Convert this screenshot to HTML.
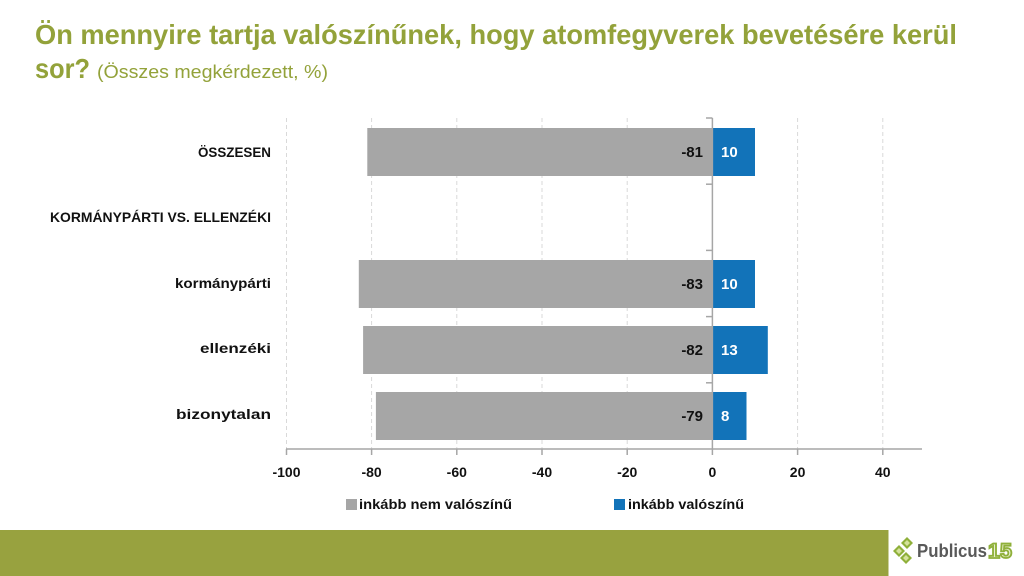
<!DOCTYPE html>
<html>
<head>
<meta charset="utf-8">
<style>
html,body{margin:0;padding:0;background:#fff;}
svg{display:block;}
text{font-family:"Liberation Sans",Arial,sans-serif;}
</style>
</head>
<body>
<svg width="1024" height="576" viewBox="0 0 1024 576" xmlns="http://www.w3.org/2000/svg">
  <rect width="1024" height="576" fill="#fff"/>
  <!-- Title -->
  <text x="35" y="44" font-size="28" font-weight="bold" fill="#93a23a" textLength="922" lengthAdjust="spacingAndGlyphs">Ön mennyire tartja valószínűnek, hogy atomfegyverek bevetésére kerül</text>
  <text x="35" y="78" font-size="28" font-weight="bold" fill="#93a23a" textLength="55" lengthAdjust="spacingAndGlyphs">sor?</text>
  <text x="97" y="78" font-size="18" fill="#93a23a" textLength="231" lengthAdjust="spacingAndGlyphs">(Összes megkérdezett, %)</text>

  <!-- gridlines -->
  <g stroke="#d9d9d9" stroke-width="1" stroke-dasharray="4,3">
    <line x1="286.5" y1="118" x2="286.5" y2="449"/>
    <line x1="371.6" y1="118" x2="371.6" y2="449"/>
    <line x1="456.8" y1="118" x2="456.8" y2="449"/>
    <line x1="542" y1="118" x2="542" y2="449"/>
    <line x1="627.2" y1="118" x2="627.2" y2="449"/>
    <line x1="797.6" y1="118" x2="797.6" y2="449"/>
    <line x1="882.8" y1="118" x2="882.8" y2="449"/>
  </g>

  <!-- bars -->
  <g fill="#a6a6a6">
    <rect x="367.3" y="128" width="345.1" height="48"/>
    <rect x="358.8" y="260" width="353.6" height="48"/>
    <rect x="363.1" y="326" width="349.3" height="48"/>
    <rect x="375.9" y="392" width="336.5" height="48"/>
  </g>
  <g fill="#1273b9">
    <rect x="712.4" y="128" width="42.6" height="48"/>
    <rect x="712.4" y="260" width="42.6" height="48"/>
    <rect x="712.4" y="326" width="55.4" height="48"/>
    <rect x="712.4" y="392" width="34.1" height="48"/>
  </g>

  <!-- axes -->
  <g stroke="#a6a6a6" stroke-width="1.5" fill="none">
    <line x1="712.4" y1="118" x2="712.4" y2="449"/>
    <line x1="286" y1="449" x2="922" y2="449"/>
    <line x1="706" y1="118" x2="712.4" y2="118"/>
    <line x1="706" y1="184.2" x2="712.4" y2="184.2"/>
    <line x1="706" y1="250.4" x2="712.4" y2="250.4"/>
    <line x1="706" y1="316.6" x2="712.4" y2="316.6"/>
    <line x1="706" y1="382.8" x2="712.4" y2="382.8"/>
    <line x1="286.5" y1="449" x2="286.5" y2="455"/>
    <line x1="371.6" y1="449" x2="371.6" y2="455"/>
    <line x1="456.8" y1="449" x2="456.8" y2="455"/>
    <line x1="542" y1="449" x2="542" y2="455"/>
    <line x1="627.2" y1="449" x2="627.2" y2="455"/>
    <line x1="712.4" y1="449" x2="712.4" y2="455"/>
    <line x1="797.6" y1="449" x2="797.6" y2="455"/>
    <line x1="882.8" y1="449" x2="882.8" y2="455"/>
  </g>

  <!-- data labels -->
  <g font-size="15" font-weight="bold" fill="#111" text-anchor="end">
    <text x="703" y="157">-81</text>
    <text x="703" y="289">-83</text>
    <text x="703" y="355">-82</text>
    <text x="703" y="421">-79</text>
  </g>
  <g font-size="15" font-weight="bold" fill="#fff">
    <text x="721" y="157">10</text>
    <text x="721" y="289">10</text>
    <text x="721" y="355">13</text>
    <text x="721" y="421">8</text>
  </g>

  <!-- category labels -->
  <g font-size="14" font-weight="bold" fill="#111" text-anchor="end">
    <text x="271" y="157" textLength="73" lengthAdjust="spacingAndGlyphs">ÖSSZESEN</text>
    <text x="271" y="222" textLength="221" lengthAdjust="spacingAndGlyphs">KORMÁNYPÁRTI VS. ELLENZÉKI</text>
    <text x="271" y="288" textLength="96" lengthAdjust="spacingAndGlyphs">kormánypárti</text>
    <text x="271" y="353" textLength="71" lengthAdjust="spacingAndGlyphs">ellenzéki</text>
    <text x="271" y="419" textLength="95" lengthAdjust="spacingAndGlyphs">bizonytalan</text>
  </g>

  <!-- tick labels -->
  <g font-size="14" font-weight="bold" fill="#111" text-anchor="middle">
    <text x="286.5" y="477">-100</text>
    <text x="371.6" y="477">-80</text>
    <text x="456.8" y="477">-60</text>
    <text x="542" y="477">-40</text>
    <text x="627.2" y="477">-20</text>
    <text x="712.4" y="477">0</text>
    <text x="797.6" y="477">20</text>
    <text x="882.8" y="477">40</text>
  </g>

  <!-- legend -->
  <rect x="346" y="499" width="11" height="11" fill="#a6a6a6"/>
  <text x="359" y="509" font-size="14" font-weight="bold" fill="#111" textLength="153" lengthAdjust="spacingAndGlyphs">inkább nem valószínű</text>
  <rect x="614" y="499" width="11" height="11" fill="#1273b9"/>
  <text x="628" y="509" font-size="14" font-weight="bold" fill="#111" textLength="116" lengthAdjust="spacingAndGlyphs">inkább valószínű</text>

  <!-- footer -->
  <rect x="0" y="530" width="888.5" height="46" fill="#98a23f"/>
  <!-- logo -->
  <g fill="#8fb03a">
    <polygon points="907,537 913,543 907,549 901,543"/>
    <polygon points="899,545 905,551 899,557 893,551"/>
    <polygon points="906,552 912,558 906,564 900,558"/>
  </g>
  <g fill="#d5e29c">
    <polygon points="907,540 910,543 907,546 904,543"/>
    <polygon points="899,548 902,551 899,554 896,551"/>
    <polygon points="906,555 909,558 906,561 903,558"/>
  </g>
  <text x="917" y="557" font-size="18" font-weight="bold" fill="#595959" textLength="70" lengthAdjust="spacingAndGlyphs">Publicus</text>
  <text x="988" y="558" font-size="21" font-weight="bold" fill="#e8efcc" stroke="#8fb03a" stroke-width="1.8" textLength="24" lengthAdjust="spacingAndGlyphs">15</text>
</svg>
</body>
</html>
